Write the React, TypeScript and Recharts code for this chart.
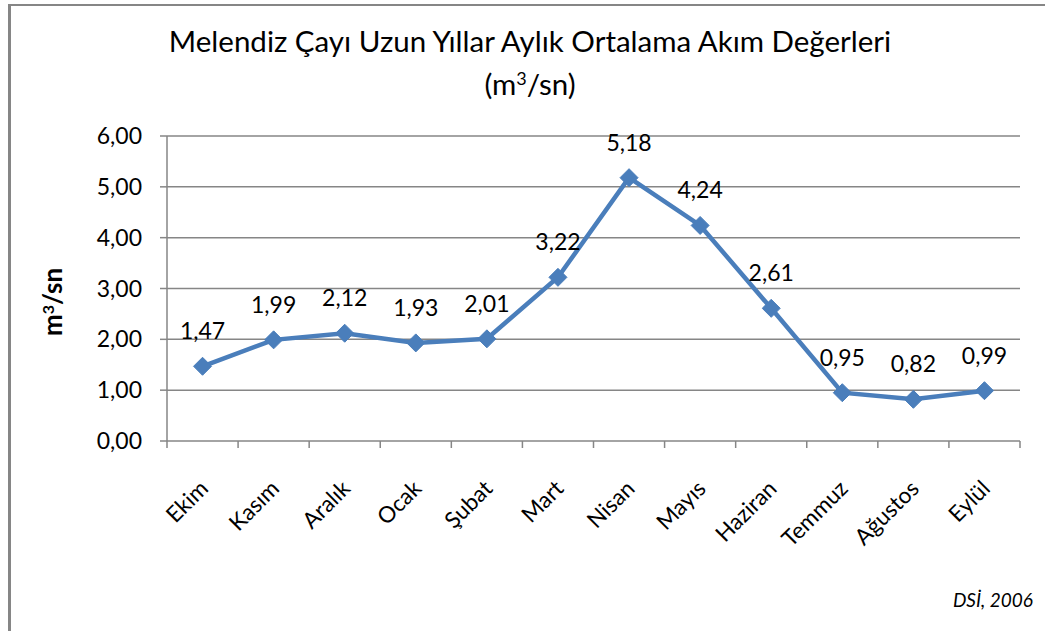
import React from 'react';
import {
  LineChart,
  Line,
  XAxis,
  YAxis,
  CartesianGrid,
  LabelList,
} from 'recharts';

const months = [
  'Ekim', 'Kasım', 'Aralık', 'Ocak', 'Şubat', 'Mart',
  'Nisan', 'Mayıs', 'Haziran', 'Temmuz', 'Ağustos', 'Eylül',
];
const flows = [1.47, 1.99, 2.12, 1.93, 2.01, 3.22, 5.18, 4.24, 2.61, 0.95, 0.82, 0.99];
const yTicks = [0, 1, 2, 3, 4, 5, 6];

const FONT = 'Lato, "Open Sans", sans-serif';
const LINE_COLOR = '#4a7ebb';
const AXIS_COLOR = '#868686';

const data = months.map((m, i) => ({ month: m, value: flows[i] }));

const fmt = (v: number) => v.toFixed(2).replace('.', ',');

const Diamond = (props: any) => {
  const { cx, cy } = props;
  if (cx == null || cy == null) return null;
  const r = 9;
  return (
    <path
      d={`M${cx},${cy - r} L${cx + r},${cy} L${cx},${cy + r} L${cx - r},${cy} Z`}
      fill={LINE_COLOR}
      stroke={LINE_COLOR}
      strokeWidth={1}
    />
  );
};

// label rotated -45deg, plus Excel-style tick marks between categories
const MonthTick = (props: any) => {
  const { x, y, payload, index, visibleTicksCount } = props;
  const half = payload.offset || 0;
  const isLast = index === (visibleTicksCount ?? months.length) - 1;
  return (
    <g>
      <line x1={x - half} x2={x - half} y1={y} y2={y + 7} stroke={AXIS_COLOR} strokeWidth={1.5} />
      {isLast && (
        <line x1={x + half} x2={x + half} y1={y} y2={y + 7} stroke={AXIS_COLOR} strokeWidth={1.5} />
      )}
      <g transform={`translate(${x + 7},${y + 49})`}>
        <text
          transform="rotate(-45)"
          textAnchor="end"
          fill="#000"
          fontSize={22.5}
          fontFamily={FONT}
        >
          {payload.value}
        </text>
      </g>
    </g>
  );
};

export default function App() {
  return (
    <div
      style={{
        position: 'absolute',
        left: 0,
        top: 0,
        width: 1045,
        height: 631,
        overflow: 'hidden',
        background: '#fff',
        fontFamily: FONT,
      }}
    >
      {/* chart area frame (only top and left edges are visible) */}
      <div
        style={{
          position: 'absolute',
          left: 8,
          top: 4,
          width: 1100,
          height: 700,
          borderTop: `2px solid ${AXIS_COLOR}`,
          borderLeft: `3px solid ${AXIS_COLOR}`,
        }}
      />
      <div
        style={{
          position: 'absolute',
          left: 0,
          width: 1060,
          top: 19,
          textAlign: 'center',
          fontSize: 29.5,
          lineHeight: '43px',
          color: '#000',
        }}
      >
        <div>Melendiz Çayı Uzun Yıllar Aylık Ortalama Akım Değerleri</div>
        <div>
          (m<sup style={{ fontSize: 18, verticalAlign: 'top', lineHeight: '33px' }}>3</sup>/sn)
        </div>
      </div>
      <div
        style={{
          position: 'absolute',
          left: 52,
          top: 302,
          transform: 'translate(-50%, -50%) rotate(-90deg)',
          fontSize: 26,
          fontWeight: 'bold',
          whiteSpace: 'nowrap',
          color: '#000',
        }}
      >
        m<sup style={{ fontSize: 16, verticalAlign: 'top', lineHeight: '24px' }}>3</sup>/sn
      </div>
      <div
        style={{
          position: 'absolute',
          right: 12,
          top: 588,
          fontSize: 19,
          fontStyle: 'italic',
          color: '#000',
        }}
      >
        DSİ, 2006
      </div>
      <div style={{ position: 'absolute', left: 0, top: 0 }}>
        <LineChart
          width={1045}
          height={631}
          data={data}
          margin={{ top: 136, right: 25, bottom: 189, left: 0 }}
        >
          <CartesianGrid vertical={false} stroke={AXIS_COLOR} strokeWidth={1.5} />
          <XAxis
            dataKey="month"
            scale="band"
            height={1}
            interval={0}
            axisLine={false}
            tickLine={false}
            tickSize={0}
            tickMargin={0}
            tick={<MonthTick />}
          />
          <YAxis
            width={167}
            domain={[0, 6]}
            ticks={yTicks}
            tickFormatter={fmt}
            tickSize={7}
            tickMargin={18}
            stroke={AXIS_COLOR}
            strokeWidth={1.5}
            tick={{ fill: '#000', fontSize: 23, fontFamily: FONT }}
          />
          <Line
            dataKey="value"
            stroke={LINE_COLOR}
            strokeWidth={4.5}
            dot={<Diamond />}
            activeDot={false}
            isAnimationActive={false}
          >
            <LabelList
              dataKey="value"
              position="top"
              offset={27}
              formatter={(v: any) => fmt(Number(v))}
              fill="#000"
              fontSize={23}
              fontFamily={FONT}
            />
          </Line>
        </LineChart>
      </div>
    </div>
  );
}
